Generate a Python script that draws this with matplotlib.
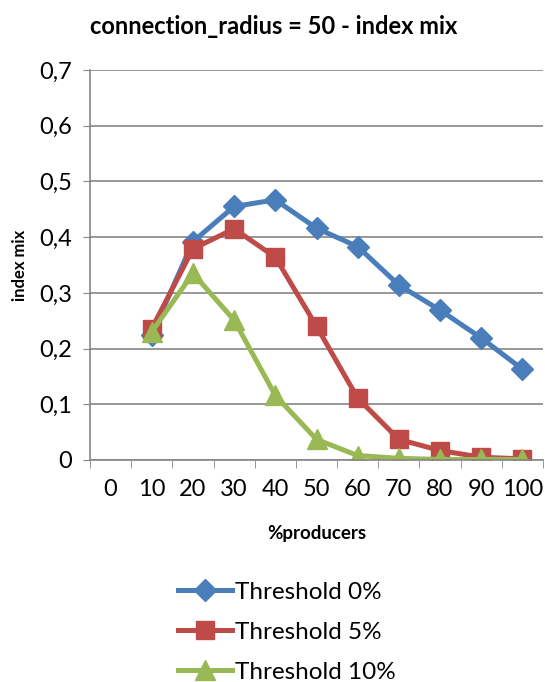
import numpy as np
import matplotlib
matplotlib.use('Agg')
import matplotlib.pyplot as plt
from matplotlib.ticker import FuncFormatter

plt.rcParams['font.family'] = ['Lato', 'DejaVu Sans']

# categories on the x axis (0 has no data)
categories = [0, 10, 20, 30, 40, 50, 60, 70, 80, 90, 100]
producers = [10, 20, 30, 40, 50, 60, 70, 80, 90, 100]

thr_0 = [0.225, 0.392, 0.455, 0.467, 0.416, 0.383, 0.314, 0.269, 0.219, 0.163]
thr_5 = [0.236, 0.379, 0.415, 0.364, 0.240, 0.111, 0.037, 0.017, 0.005, 0.002]
thr_10 = [0.230, 0.335, 0.251, 0.116, 0.037, 0.008, 0.003, 0.001, 0.001, 0.001]

series_names = ['Threshold 0%', 'Threshold 5%', 'Threshold 10%']

fig = plt.figure(figsize=(5.45, 6.82), dpi=100)
ax = fig.add_axes([90 / 545, 1 - 460 / 682, (543 - 90) / 545, (460 - 70) / 682])

idx = [categories.index(p) for p in producers]
ax.plot(idx, thr_0, color='#4A7EBB', lw=3.6, marker='D', ms=11, label=series_names[0])
ax.plot(idx, thr_5, color='#BE4B48', lw=3.6, marker='s', ms=13, label=series_names[1])
ax.plot(idx, thr_10, color='#98B954', lw=3.6, marker='^', ms=15, label=series_names[2])

ax.set_xlim(-0.5, len(categories) - 0.5)
ax.set_ylim(0, 0.7)

# category labels centered, tick marks between categories
ax.set_xticks(range(len(categories)))
ax.set_xticklabels([str(c) for c in categories], fontsize=17)
ax.set_xticks(np.arange(-0.5, len(categories), 1.0), minor=True)
ax.tick_params(axis='x', which='major', length=0, pad=14)
ax.tick_params(axis='x', which='minor', length=6, color='#868686', direction='out')

ax.set_yticks(np.arange(0, 0.71, 0.1))
ax.yaxis.set_major_formatter(FuncFormatter(lambda v, p: '0' if abs(v) < 1e-9 else f'{v:.1f}'.replace('.', ',')))
ax.tick_params(axis='y', labelsize=17, length=5, color='#868686', direction='out', pad=8)

ax.grid(axis='y', color='#868686', lw=1.2)
ax.set_axisbelow(True)
for s in ['top', 'right']:
    ax.spines[s].set_visible(False)
for s in ['left', 'bottom']:
    ax.spines[s].set_color('#868686')
    ax.spines[s].set_linewidth(1.2)

ax.set_xlabel('%producers', fontsize=13.5, fontweight='bold', labelpad=18)
ax.set_ylabel('index mix', fontsize=12, fontweight='bold', labelpad=8)
fig.text(274 / 545, 1 - 27 / 682, 'connection_radius = 50 - index mix', fontsize=17,
         fontweight='bold', ha='center', va='center')

fig.legend(loc='upper center', bbox_to_anchor=(287 / 545, 1 - 567 / 682), frameon=False,
           fontsize=17.5, handlelength=2.2, handletextpad=0.15, labelspacing=0.78,
           borderaxespad=0.2)

fig.savefig('out.png', dpi=100)
